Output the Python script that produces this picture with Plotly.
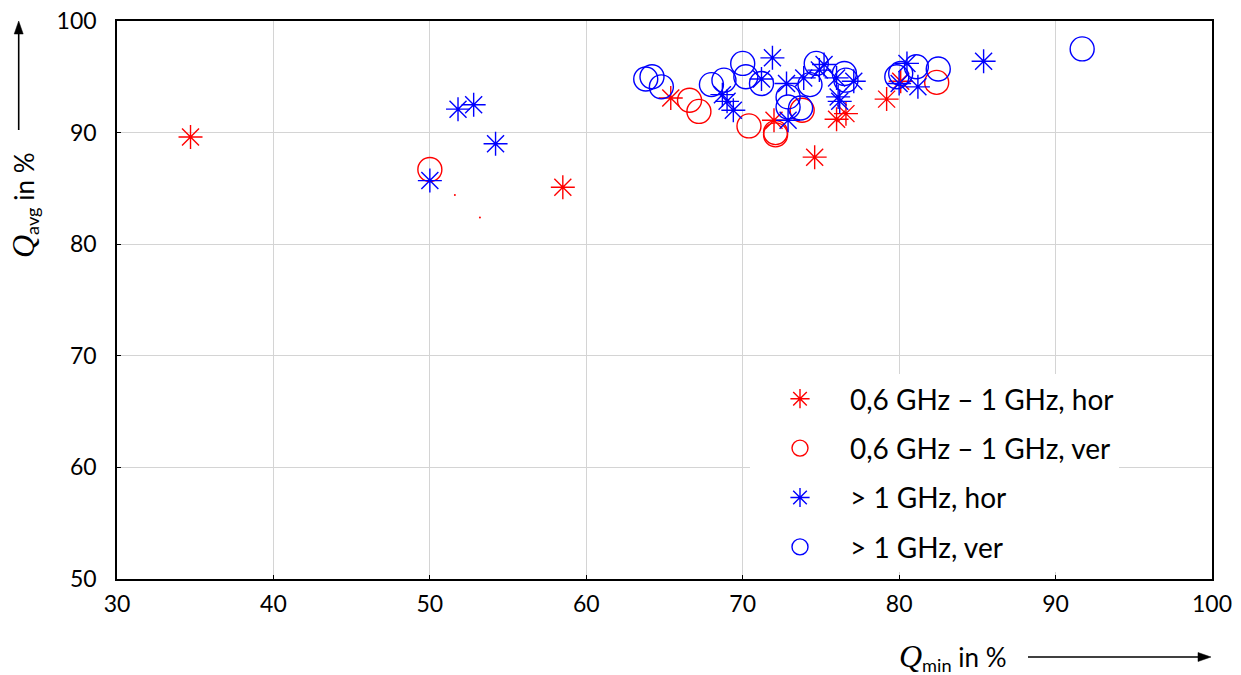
import plotly.graph_objects as go

# ---- data ----
red_hor_x = [34.7, 58.5, 65.4, 72.0, 74.6, 76.0, 76.6, 79.2, 80.1]
red_hor_y = [89.6, 85.1, 93.1, 91.1, 87.8, 91.2, 91.7, 93.0, 94.6]

red_ver_x = [50.0, 66.6, 67.2, 70.4, 72.1, 72.1, 73.8, 82.4]
red_ver_y = [86.7, 92.9, 91.9, 90.6, 90.0, 89.8, 92.0, 94.5]

blue_hor_x = [50.0, 51.8, 52.8, 54.2, 68.7, 69.0, 69.4, 71.2, 71.9, 72.8, 72.9,
              73.9, 74.9, 75.2, 76.0, 76.1, 76.2, 77.1, 80.0, 80.5, 81.2, 85.4]
blue_hor_y = [85.7, 92.1, 92.5, 89.0, 93.4, 92.8, 92.0, 94.8, 96.7, 94.4, 91.1,
              94.9, 95.6, 96.1, 94.9, 93.2, 92.8, 94.6, 94.4, 96.2, 94.1, 96.4]

blue_ver_x = [63.8, 64.2, 64.8, 68.0, 68.8, 70.0, 70.2, 71.2, 72.9, 72.9, 73.7,
              74.3, 74.7, 76.5, 76.6, 79.85, 80.1, 81.1, 82.5, 91.7]
blue_ver_y = [94.8, 95.0, 94.1, 94.3, 94.7, 96.2, 95.0, 94.4, 93.2, 92.3, 92.2,
              94.3, 96.2, 95.3, 94.7, 95.0, 95.3, 95.9, 95.7, 97.5]

red_dot_x = [51.6, 53.2]
red_dot_y = [84.4, 82.4]

x_ticks = [30, 40, 50, 60, 70, 80, 90, 100]
y_ticks = [50, 60, 70, 80, 90, 100]

names = ["0,6 GHz – 1 GHz, hor", "0,6 GHz – 1 GHz, ver", "> 1 GHz, hor", "> 1 GHz, ver"]

RED = "#ff0000"
BLUE = "#0000ff"
FONT = "Lato"

# plot-area geometry in pixels (for paper-coordinate decorations)
W, H = 1241, 675
L, R, T, B = 117, 29, 21, 96
PW, PH = W - L - R, H - T - B


def px(xpix):
    return (xpix - L) / PW


def py(ypix):
    return (H - B - ypix) / PH


fig = go.Figure()


def star(x, y, color, name, grp):
    fig.add_trace(go.Scatter(
        x=x, y=y, mode="markers", name=name, legendgroup=grp,
        marker=dict(symbol="asterisk-open", size=20, color=color,
                    line=dict(color=color, width=1.4))))


def ring(x, y, color, name, grp):
    fig.add_trace(go.Scatter(
        x=x, y=y, mode="markers", name=name, legendgroup=grp,
        marker=dict(symbol="circle-open", size=24, color=color,
                    line=dict(color=color, width=1.4))))


star(red_hor_x, red_hor_y, RED, names[0], "a")
ring(red_ver_x, red_ver_y, RED, names[1], "b")
star(blue_hor_x, blue_hor_y, BLUE, names[2], "c")
ring(blue_ver_x, blue_ver_y, BLUE, names[3], "d")

fig.add_trace(go.Scatter(
    x=red_dot_x, y=red_dot_y, mode="markers", showlegend=False,
    marker=dict(symbol="circle", size=2, color=RED)))

axis_common = dict(
    showline=True, linecolor="black", linewidth=1.6, mirror=True,
    showgrid=True, gridcolor="#d4d4d4", gridwidth=1,
    ticks="inside", ticklen=4, tickcolor="black", tickwidth=1,
    zeroline=False, automargin=False,
    tickfont=dict(family=FONT, size=23, color="black"),
)

fig.update_xaxes(range=[30, 100], tickvals=x_ticks, ticklabelstandoff=4, **axis_common)
fig.update_yaxes(range=[50, 100], tickvals=y_ticks, ticklabelstandoff=14, **axis_common)

fig.update_layout(
    width=W, height=H,
    margin=dict(l=L, r=R, t=T, b=B),
    paper_bgcolor="white", plot_bgcolor="white",
    font=dict(family=FONT, color="black"),
    legend=dict(
        x=px(750), y=py(374), xanchor="left", yanchor="top",
        bgcolor="white", borderwidth=0,
        font=dict(family=FONT, size=28, color="black"),
        tracegroupgap=10, itemwidth=90,
        traceorder="grouped",
    ),
    showlegend=True,
)

# axis titles
fig.add_annotation(
    xref="paper", yref="paper", x=px(953), y=py(657),
    text='<span style="font-family:Liberation Serif;font-style:italic;font-size:32px">Q</span><sub>min</sub> in %',
    showarrow=False, font=dict(family=FONT, size=26, color="black"),
    xanchor="center", yanchor="middle")
fig.add_annotation(
    xref="paper", yref="paper", x=px(24), y=py(205),
    text='<span style="font-family:Liberation Serif;font-style:italic;font-size:32px">Q</span><sub>avg</sub> in %',
    showarrow=False, textangle=-90, font=dict(family=FONT, size=26, color="black"),
    xanchor="center", yanchor="middle")

# arrows (line + filled head) in paper coordinates
shapes = []
shapes.append(dict(type="line", xref="paper", yref="paper",
                   x0=px(1028), y0=py(657), x1=px(1200), y1=py(657),
                   line=dict(color="black", width=1.6)))
shapes.append(dict(type="path", xref="paper", yref="paper",
                   path=f"M {px(1211)} {py(657)} L {px(1198)} {py(661.5)} L {px(1198)} {py(652.5)} Z",
                   fillcolor="black", line=dict(color="black", width=0.5)))
shapes.append(dict(type="line", xref="paper", yref="paper",
                   x0=px(18.7), y0=py(130), x1=px(18.7), y1=py(32),
                   line=dict(color="black", width=1.6)))
shapes.append(dict(type="path", xref="paper", yref="paper",
                   path=f"M {px(18.7)} {py(21)} L {px(14.2)} {py(34)} L {px(23.2)} {py(34)} Z",
                   fillcolor="black", line=dict(color="black", width=0.5)))
fig.update_layout(shapes=shapes)

fig.write_html("out.html")
